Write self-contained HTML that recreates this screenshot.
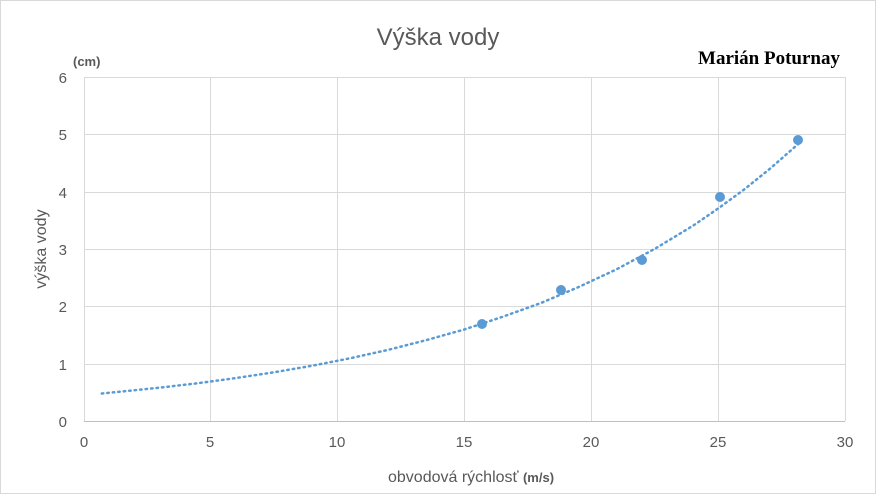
<!DOCTYPE html>
<html><head><meta charset="utf-8"><style>
html,body{margin:0;padding:0;background:#fff}
svg{display:block}
text{font-family:"Liberation Sans",sans-serif}
</style></head><body>
<svg width="877" height="494" viewBox="0 0 877 494" xmlns="http://www.w3.org/2000/svg">
<rect x="0.5" y="0.5" width="875" height="493" fill="#fff" stroke="#d9d9d9"/>
<g stroke="#d9d9d9" stroke-width="1">
<line x1="84" y1="77.5" x2="845" y2="77.5"/>
<line x1="84" y1="134.5" x2="845" y2="134.5"/>
<line x1="84" y1="192.5" x2="845" y2="192.5"/>
<line x1="84" y1="249.5" x2="845" y2="249.5"/>
<line x1="84" y1="306.5" x2="845" y2="306.5"/>
<line x1="84" y1="364.5" x2="845" y2="364.5"/>
<line x1="84.5" y1="77" x2="84.5" y2="421"/>
<line x1="210.5" y1="77" x2="210.5" y2="421"/>
<line x1="337.5" y1="77" x2="337.5" y2="421"/>
<line x1="464.5" y1="77" x2="464.5" y2="421"/>
<line x1="591.5" y1="77" x2="591.5" y2="421"/>
<line x1="718.5" y1="77" x2="718.5" y2="421"/>
<line x1="845.5" y1="77" x2="845.5" y2="421"/>
</g>
<line x1="84" y1="421.5" x2="845" y2="421.5" stroke="#bfbfbf"/>
<g fill="#595959" font-size="15">
<g text-anchor="end">
<text x="67" y="83">6</text><text x="67" y="140">5</text><text x="67" y="198">4</text>
<text x="67" y="255">3</text><text x="67" y="312">2</text><text x="67" y="370">1</text><text x="67" y="427">0</text>
</g>
<g text-anchor="middle">
<text x="84" y="447">0</text><text x="210" y="447">5</text><text x="337" y="447">10</text>
<text x="464" y="447">15</text><text x="591" y="447">20</text><text x="718" y="447">25</text><text x="845" y="447">30</text>
</g>
</g>
<text x="438" y="45" text-anchor="middle" font-size="24" fill="#595959">Výška vody</text>
<text x="73" y="66" font-size="13" font-weight="bold" fill="#595959">(cm)</text>
<text x="388" y="482" font-size="16" fill="#595959">obvodová rýchlosť <tspan font-size="13" font-weight="bold">(m/s)</tspan></text>
<text transform="translate(46,249) rotate(-90)" text-anchor="middle" font-size="16" fill="#595959">výška vody</text>
<text x="840" y="64" text-anchor="end" font-size="19" font-weight="bold" style="font-family:'Liberation Serif',serif" fill="#000">Marián Poturnay</text>
<polyline fill="none" stroke="#5b9bd5" stroke-width="2.5" stroke-dasharray="1.5,4" stroke-linecap="round"
points="101.8,393.5 130,390.7 160.1,387.6 198,383.2 236.2,378.0 274,372.3 312.3,365.7 350,358.3 388.4,349.8 426,340.2 464.6,329.4 502,317.0 540.7,303.1 578,287.3 616.8,269.2 655,248.7 692.9,225.8 718,208.6 743.6,189.9 770,168.7 799.4,143.0"/>
<g fill="#5b9bd5">
<circle cx="482" cy="324" r="5"/><circle cx="561" cy="290" r="5"/><circle cx="642" cy="260" r="5"/>
<circle cx="720" cy="197" r="5"/><circle cx="798" cy="140" r="5"/>
</g>
</svg>
</body></html>
